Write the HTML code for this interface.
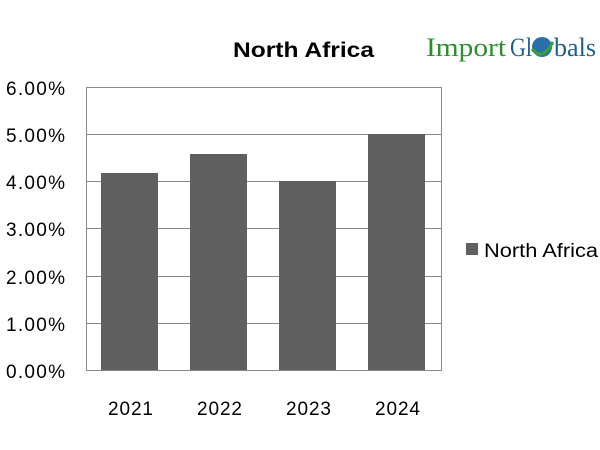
<!DOCTYPE html>
<html><head><style>body{margin:0;background:#fff;}svg{display:block}</style></head><body>
<svg width="600" height="450" xmlns="http://www.w3.org/2000/svg" font-family="Liberation Sans, sans-serif">
<rect width="600" height="450" fill="#fff"/>
<text x="233" y="57" font-size="21" font-weight="bold" fill="#000" textLength="141" lengthAdjust="spacingAndGlyphs">North Africa</text>
<text x="426" y="56" font-family="Liberation Serif, serif" font-size="26" fill="#2e8b2e" textLength="80" lengthAdjust="spacingAndGlyphs">Import</text>
<text x="510" y="56" font-family="Liberation Serif, serif" font-size="26" fill="#1f5f8f" textLength="22" lengthAdjust="spacingAndGlyphs">Gl</text>
<circle cx="542" cy="47" r="10" fill="#2a70a8"/>
<path d="M532 49 Q542 62 553 42" stroke="#3aa03a" stroke-width="3" fill="none"/>
<text x="554" y="56" font-family="Liberation Serif, serif" font-size="26" fill="#1f5f8f" textLength="42" lengthAdjust="spacingAndGlyphs">bals</text>
<g stroke="#8a8a8a" stroke-width="1">
<line x1="86" y1="87.5" x2="442" y2="87.5"/>
<line x1="86" y1="134.5" x2="442" y2="134.5"/>
<line x1="86" y1="181.5" x2="442" y2="181.5"/>
<line x1="86" y1="228.5" x2="442" y2="228.5"/>
<line x1="86" y1="276.5" x2="442" y2="276.5"/>
<line x1="86" y1="323.5" x2="442" y2="323.5"/>
<line x1="86" y1="370.5" x2="442" y2="370.5"/>
<line x1="86.5" y1="87" x2="86.5" y2="370"/>
<line x1="441.5" y1="87" x2="441.5" y2="370"/>
</g>
<g fill="#5f5f5f">
<rect x="101" y="173" width="57" height="197"/>
<rect x="190" y="154" width="57" height="216"/>
<rect x="279" y="181" width="57" height="189"/>
<rect x="368" y="134" width="57" height="236"/>
</g>
<g font-size="19" fill="#000" lengthAdjust="spacingAndGlyphs">
<text x="6" y="95" textLength="59">6.00%</text>
<text x="6" y="142" textLength="59">5.00%</text>
<text x="6" y="189" textLength="59">4.00%</text>
<text x="6" y="236" textLength="59">3.00%</text>
<text x="6" y="284" textLength="59">2.00%</text>
<text x="6" y="331" textLength="59">1.00%</text>
<text x="6" y="378" textLength="59">0.00%</text>
</g>
<g font-size="19" fill="#000" lengthAdjust="spacingAndGlyphs">
<text x="108" y="415" textLength="45">2021</text>
<text x="197" y="415" textLength="45">2022</text>
<text x="286" y="415" textLength="45">2023</text>
<text x="375" y="415" textLength="45">2024</text>
</g>
<rect x="466" y="243" width="12" height="12" fill="#5f5f5f"/>
<text x="484" y="257" font-size="19" fill="#000" textLength="114" lengthAdjust="spacingAndGlyphs">North Africa</text>
</svg>
</body></html>
